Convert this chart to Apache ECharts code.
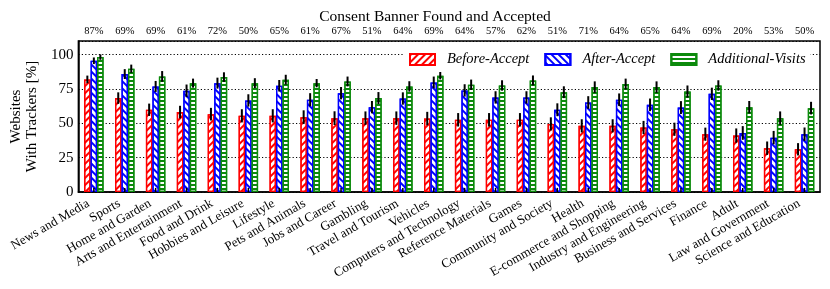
<!DOCTYPE html>
<html>
<head>
<meta charset="utf-8">
<script src="https://cdn.jsdelivr.net/npm/echarts@6/dist/echarts.min.js"></script>
<style>
html,body{margin:0;padding:0;background:#fff;}
#chart{width:830px;height:289px;}
</style>
</head>
<body>
<div id="chart"></div>
<script>
const categories = ["News and Media","Sports","Home and Garden","Arts and Entertainment","Food and Drink","Hobbies and Leisure","Lifestyle","Pets and Animals","Jobs and Career","Gambling","Travel and Tourism","Vehicles","Computers and Technology","Reference Materials","Games","Community and Society","Health","E-commerce and Shopping","Industry and Engineering","Business and Services","Finance","Adult","Law and Government","Science and Education"];
const acceptedPct = ["87%","69%","69%","61%","72%","50%","65%","61%","67%","51%","64%","69%","64%","57%","62%","51%","71%","64%","65%","64%","69%","20%","53%","50%"];
const beforeAccept = [82,68.4,59.9,58.2,56.7,55.5,55.5,54.5,53.8,53.8,53.8,53.5,52.6,52.6,52.6,49.6,48.2,48.2,47,45.7,42.1,41.1,31.9,31.1];
const afterAccept = [95.6,85.9,76.9,73.7,79.3,66.7,77.4,67.2,72,61.8,68.1,79.8,74,68.9,68.9,59.9,65.2,67.2,63.5,61.5,71.5,43,39.6,42.1];
const additionalVisits = [98.3,89.8,84.2,79.3,83.7,79.3,81.8,79.3,80.5,68.4,76.9,84.7,78.1,77.6,81.3,72.7,76.4,78.6,76.4,73.2,77.6,61.8,53.8,61.1];
const beforeErr = [2.8,4.2,4.5,4.6,4.6,4.8,4.8,5.0,5.0,4.9,4.9,4.9,4.9,4.9,4.9,4.8,4.8,4.8,4.8,4.8,4.8,5.2,4.9,4.5];
const afterErr = [2.4,3.6,4.0,4.6,4.0,4.5,4.2,4.8,4.5,4.5,4.5,4.3,4.5,4.5,4.5,4.7,4.6,4.6,4.6,4.7,4.5,5.0,4.9,4.9];
const visitsErr = [2.0,3.0,3.9,3.3,3.5,3.6,3.6,3.0,3.6,4.4,3.8,2.7,3.8,3.8,3.6,4.3,4.2,4.0,4.2,4.4,3.8,4.5,4.9,4.6];
const baselineValues = [0,0,0,0,0,0,0,0,0,0,0,0,0,0,0,0,0,0,0,0,0,0,0,0];
const baselineErr = [3,3,3,3,3,3,3,3,3,3,3,3,3,3,3,3,3,3,3,3,3,3,3,3];
const yTicks = [0,25,50,75,100];

const FONT = 'Liberation Serif';
const RED = '#ff0000', BLUE = '#0000ff', GREEN = '#0c8a0c';
const BAR_W = 6.5;
const OFFS = [-BAR_W, 0, BAR_W];

function errData(vals, errs){ return vals.map((v,i)=>[i, v, errs[i]]); }
function errSeries(vals, errs, k, lw){
  return {
    type:'custom', xAxisIndex:0, yAxisIndex:0, z:10, silent:true,
    encode:{x:0,y:1},
    data: errData(vals, errs),
    renderItem: function(params, api){
      const i = api.value(0), v = api.value(1), e = api.value(2);
      const top = api.coord([i, v + e]);
      const bot = api.coord([i, Math.max(0, v - e)]);
      const x = top[0] + OFFS[k];
      return {type:'line', shape:{x1:x, y1:top[1], x2:x, y2:bot[1]}, style:{stroke:'#000', lineWidth:lw}};
    }
  };
}

const chart = echarts.init(document.getElementById('chart'), null, {renderer:'canvas'});
chart.setOption({
  animation:false,
  backgroundColor:'#fff',
  title:{text:'Consent Banner Found and Accepted', left:430, top:4, textAlign:'center',
    textStyle:{fontFamily:FONT, fontSize:15.5, fontWeight:'normal', color:'#000'}},
  grid:{left:75, right:10, top:41, bottom:97, show:true, borderColor:'#000', borderWidth:1.5, backgroundColor:'transparent'},
  legend:{
    data:[{name:'Before-Accept',icon:'rect'},{name:'After-Accept',icon:'rect'},{name:'Additional-Visits',icon:'rect'}],
    left:404, top:47, padding:[5,5], itemGap:15, itemWidth:25, itemHeight:11,
    backgroundColor:'#fff',
    textStyle:{fontFamily:FONT, fontStyle:'italic', fontSize:14.5, color:'#000', padding:[0,0,0,7]}
  },
  xAxis:[{
    type:'category', data:categories, position:'bottom',
    axisLine:{show:true, lineStyle:{color:'#000', width:1.5}},
    axisTick:{show:false},
    axisLabel:{interval:0, rotate:30, margin:0, verticalAlign:'top', align:'right', padding:[0,10,0,0], fontFamily:FONT, fontSize:13, color:'#000'}
  },{
    type:'category', data:acceptedPct, position:'top',
    axisLine:{show:false}, axisTick:{show:false},
    axisLabel:{interval:0, margin:4, fontFamily:FONT, fontSize:10.5, color:'#000'}
  }],
  yAxis:{
    type:'value', min:0, max:110, interval:25,
    name:'Websites\nWith Trackers [%]', nameLocation:'middle', nameGap:36, nameRotate:90,
    nameTextStyle:{fontFamily:FONT, fontSize:15, color:'#000', lineHeight:16},
    axisLine:{show:true, lineStyle:{color:'#000', width:1.5}},
    axisTick:{show:false},
    axisLabel:{margin:5, fontFamily:FONT, fontSize:15, color:'#000',
      formatter:function(v){ return yTicks.indexOf(v) >= 0 ? String(v) : ''; }},
    splitLine:{show:true, lineStyle:{color:'#000', type:[1.2,2.2], width:1}}
  },
  series:[
    {name:'Before-Accept', type:'bar', data:beforeAccept, barWidth:BAR_W, barGap:'0%',
     itemStyle:{color:'#fff', borderColor:RED, borderWidth:1.3,
       decal:{symbol:'rect', symbolSize:1, dashArrayX:[1,0], dashArrayY:[1.4,2.6], rotation:-Math.PI/4, color:RED}}},
    {name:'After-Accept', type:'bar', data:afterAccept, barWidth:BAR_W, barGap:'0%',
     itemStyle:{color:'#fff', borderColor:BLUE, borderWidth:1.3,
       decal:{symbol:'rect', symbolSize:1, dashArrayX:[1,0], dashArrayY:[1.4,2.6], rotation:Math.PI/4, color:BLUE}}},
    {name:'Additional-Visits', type:'bar', data:additionalVisits, barWidth:BAR_W, barGap:'0%',
     itemStyle:{color:'#fff', borderColor:GREEN, borderWidth:1.3,
       decal:{symbol:'rect', symbolSize:1, dashArrayX:[1,0], dashArrayY:[1.2,1.8], rotation:0, color:GREEN}}},
    errSeries(beforeAccept, beforeErr, 0, 2),
    errSeries(afterAccept, afterErr, 1, 2),
    errSeries(additionalVisits, visitsErr, 2, 2),
    errSeries(baselineValues, baselineErr, 1, 1.5)
  ]
});
</script>
</body>
</html>
